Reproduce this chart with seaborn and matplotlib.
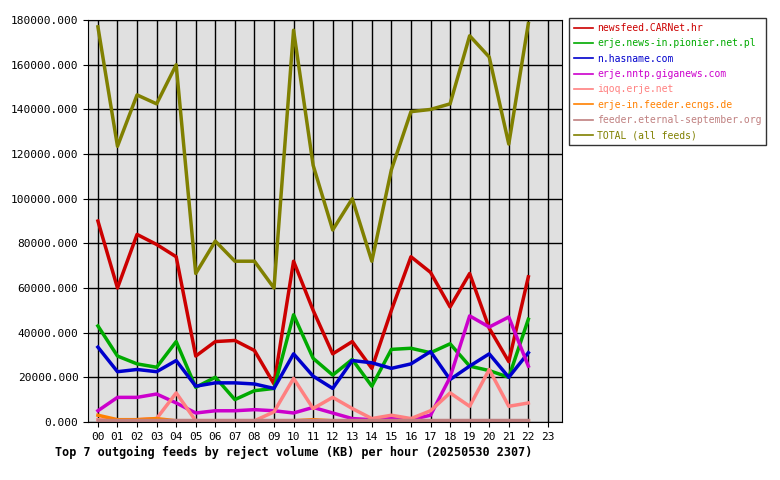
import numpy as np
import pandas as pd
import matplotlib
matplotlib.use("Agg")
import matplotlib.pyplot as plt
import seaborn as sns

hours = [f"{h:02d}" for h in range(24)]

newsfeed_carnet = [90000, 60000, 84000, 79500, 74000, 29500, 36000, 36500, 32000, 17000, 72000, 50000,
                   30500, 36000, 24000, 50000, 74000, 67000, 51500, 66500, 42000, 27000, 65000]
pionier = [43000, 29500, 26000, 24500, 36000, 15500, 20000, 10000, 14000, 15000, 48000, 28500,
           21000, 28000, 16000, 32500, 33000, 31000, 35000, 25000, 23000, 20000, 46000]
hasname = [33500, 22500, 23500, 22500, 27500, 16000, 17500, 17500, 17000, 15000, 30500, 20500,
           15000, 27500, 26500, 24000, 26000, 31500, 19000, 25000, 30500, 20000, 31000]
giganews = [5000, 11000, 11000, 12500, 8500, 4000, 5000, 5000, 5500, 5000, 4000, 6500,
            4000, 1500, 1000, 1500, 1000, 3000, 20000, 47500, 42500, 47000, 25000]
iqoq = [1000, 500, 1000, 1500, 13000, 500, 500, 500, 500, 4500, 19500, 6000,
        11000, 6000, 1500, 3000, 1500, 5000, 13000, 7000, 23500, 7000, 8500]
ecngs = [3000, 1000, 1000, 1500, 500, 500, 500, 500, 500, 500, 500, 1000,
         500, 500, 500, 500, 500, 500, 500, 500, 500, 500, 500]
eternal = [1000] * 23
total = [177000, 123500, 146500, 142500, 160000, 66500, 81000, 72000, 72000, 60000, 175500, 115000,
         86000, 100000, 72000, 113000, 139000, 140000, 142500, 173000, 163500, 124500, 178500]

series = {
    "newsfeed.CARNet.hr": (newsfeed_carnet, "#cc0000"),
    "erje.news-in.pionier.net.pl": (pionier, "#00aa00"),
    "n.hasname.com": (hasname, "#0000cc"),
    "erje.nntp.giganews.com": (giganews, "#cc00cc"),
    "iqoq.erje.net": (iqoq, "#ff8080"),
    "erje-in.feeder.ecngs.de": (ecngs, "#ff8000"),
    "feeder.eternal-september.org": (eternal, "#c08080"),
    "TOTAL (all feeds)": (total, "#808000"),
}

rows = []
for name, (vals, _) in series.items():
    for i, v in enumerate(vals):
        rows.append({"hour": i, "value": v, "feed": name})
df = pd.DataFrame(rows)
palette = {k: c for k, (_, c) in series.items()}

plt.rcParams["font.family"] = "DejaVu Sans Mono"
fig = plt.figure(figsize=(7.8, 4.8), dpi=100)
ax = fig.add_axes([0.113, 0.121, 0.607, 0.837])
ax.set_facecolor("#e0e0e0")
sns.lineplot(data=df, x="hour", y="value", hue="feed", palette=palette, linewidth=2.5,
             ax=ax, legend=True)

ax.set_xlim(-0.5, 23.7)
ax.set_ylim(0, 180000)
ax.set_xticks(range(24))
ax.set_xticklabels(hours, fontsize=8)
ax.set_yticks(range(0, 180001, 20000))
ax.set_yticklabels([f"{v}.000" for v in range(0, 180001, 20000)], fontsize=8)
ax.grid(True, color="black", linewidth=1)
ax.set_axisbelow(True)
ax.set_xlabel("")
ax.set_ylabel("")
for s in ax.spines.values():
    s.set_color("black")

leg = ax.legend(loc="upper left", bbox_to_anchor=(1.015, 1.005), fontsize=7, frameon=True,
                fancybox=False, edgecolor="black", handlelength=2.0, handletextpad=0.4,
                borderaxespad=0, borderpad=0.5, labelspacing=0.55)
for txt, line in zip(leg.get_texts(), leg.get_lines()):
    txt.set_color(line.get_color())
    line.set_linewidth(1.2)

fig.text(0.07, 0.05, "Top 7 outgoing feeds by reject volume (KB) per hour (20250530 2307)",
         fontsize=8.5, fontweight="bold")
fig.savefig("out.png", dpi=100)
